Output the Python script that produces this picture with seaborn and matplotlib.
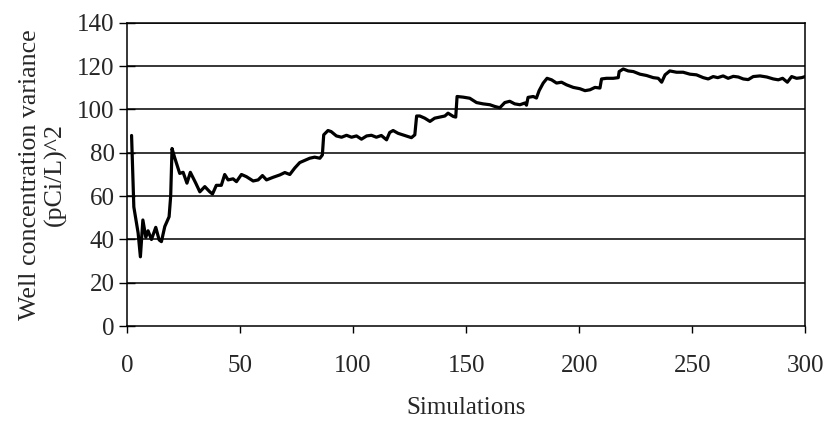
# IMPORT LIBRARIES
import pandas as pd
import numpy as np
import matplotlib.pyplot as plt
import seaborn as sns

# DATA
sims = [2, 3, 4.9, 5.9, 7, 8.3, 9.3, 10.8, 12.7, 14.2, 15.2, 16.7, 18.6, 19.3, 19.9,
        21, 23.3, 24.8, 26.5, 28, 30.4, 32.2, 34.4, 36.6, 37.8, 39.5, 41.7, 43.2,
        44.7, 46.9, 48.4, 50.6, 52.8, 55.8, 58, 59.9, 61.7, 64.6, 67.6, 69.8, 72,
        74.2, 76.4, 78.6, 80.8, 83, 85.3, 86.4, 87, 88.9, 90.3, 92.6, 94.9, 97.1,
        99.3, 101.5, 103.7, 106, 108.1, 110.3, 112.5, 114.8, 116.2, 117.7, 119.9,
        122, 124.4, 125.8, 127.3, 128.1, 129.5, 131.7, 134, 136.1, 138.4, 140.6,
        142, 144.3, 145.4, 146, 148.7, 151.6, 154.6, 157.5, 160.5, 162.7, 164.9,
        167.1, 169.3, 171.5, 173.8, 176, 176.7, 177.4, 179.7, 181.1, 182.3, 184.1,
        185.8, 187.8, 190, 192.2, 194.4, 197.4, 200.3, 202.6, 204.8, 207, 209.2,
        209.9, 212.1, 215.1, 217.3, 217.7, 219.5, 221.7, 224, 226.9, 229.8, 232.8,
        235, 236.5, 238, 240.1, 243.1, 246, 249, 251.9, 254.9, 257.1, 259.3, 261.3,
        263.7, 265.9, 268.2, 270.4, 272.6, 274.8, 277, 280, 283, 285.9, 288.1, 290,
        292.1, 294, 296.2, 298.4, 300]
variance = [88, 55, 43, 32, 49, 41, 44, 40, 45.6, 39.8, 39, 46, 50.5, 60, 82,
            78, 70.5, 71, 66, 71, 66, 62, 64.4, 62, 61, 65, 65, 70,
            67.5, 68, 66.7, 70, 69, 67, 67.5, 69.5, 67.5, 68.7, 69.8, 70.9, 70,
            73, 75.5, 76.5, 77.5, 78, 77.5, 79, 88.3, 90.3, 89.8, 87.8, 87.2, 88.1,
            87.2, 87.8, 86.3, 87.8, 88.1, 87.2, 88, 86, 89.4, 90.3, 89,
            88.3, 87.5, 87, 88.3, 97, 97, 96, 94.5, 96, 96.5, 97,
            98.3, 96.8, 96.5, 106, 105.7, 105.2, 103.2, 102.6, 102.2, 101.4, 100.8,
            103.2, 103.8, 102.6, 102.2, 103, 102, 105.6, 106, 105.3, 108.7, 112.2,
            114.4, 113.7, 112.2, 112.6, 111.4, 110.2, 109.6, 108.7, 109.1, 110.2, 109.9,
            114.1, 114.4, 114.4, 114.7, 117.5, 118.7, 117.8, 117.5, 116.3, 115.7, 114.7,
            114.4, 112.6, 116, 117.8, 117.2, 117.2, 116.3, 116, 114.7, 114.1, 115.2, 114.7,
            115.5, 114.4, 115.3, 115, 114.1, 113.8, 115.2, 115.5, 115, 114.1, 113.7, 114.4,
            112.6, 115.2, 114.4, 114.7, 115.2]
y_ticks = [0, 20, 40, 60, 80, 100, 120, 140]
x_ticks = [0, 50, 100, 150, 200, 250, 300]

df = pd.DataFrame({"Simulations": sims, "variance": variance})

# PLOT
sns.set_style("white")
plt.rcParams["font.family"] = ["Liberation Serif", "DejaVu Serif"]

fig = plt.figure(figsize=(8.25, 4.23), dpi=100)
ax = fig.add_axes([0.154, 0.229, 0.822, 0.717])

for yt in y_ticks[1:]:
    ax.axhline(yt, color="black", lw=1.1, zorder=1)

sns.lineplot(
    data=df,
    x="Simulations",
    y="variance",
    color="black",
    linewidth=2.3,
    ax=ax,
    zorder=3
)

ax.set_xlim(0, 300)
ax.set_ylim(0, 140)
ax.set_xticks(x_ticks)
ax.set_yticks(y_ticks)
ax.tick_params(axis="y", direction="inout", length=12, width=1,
               color="black", labelsize=18, pad=3, left=True)
ax.tick_params(axis="x", direction="out", length=5, width=1,
               color="black", labelsize=18, pad=16, bottom=True)
for s in ax.spines.values():
    s.set_color("black")
    s.set_linewidth(1.1)

ax.set_xlabel("Simulations", fontsize=18, labelpad=14)
ax.set_ylabel("Well concentration variance\n(pCi/L)^2", fontsize=18.7,
              labelpad=7, linespacing=1.2)

fig.savefig("out.png", dpi=100)
